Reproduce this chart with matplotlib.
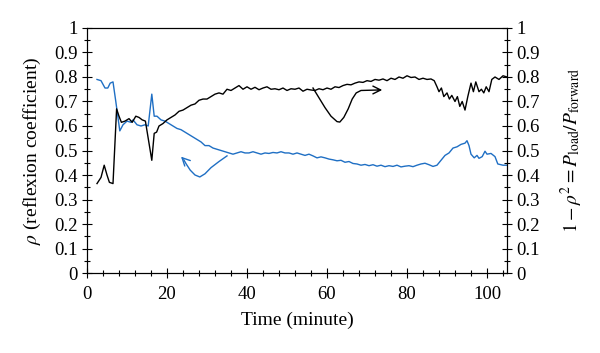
import matplotlib
matplotlib.use("Agg")
import matplotlib.pyplot as plt
from matplotlib.ticker import MultipleLocator

# black curve: 1 - rho^2 (right axis)
t_black = [2.5, 3.5, 4.3, 5.0, 5.6, 6.5, 7.4, 8.0, 8.6, 9.5, 10.5, 11.3, 12.2, 13.0, 13.8, 14.6, 15.3, 16.2, 16.8,
           17.4, 18.0, 19.0, 20, 21, 22, 23, 24, 25, 26, 27, 28, 29, 30, 31, 32, 33, 34, 35, 36, 37, 38, 39,
           40, 41, 42, 43, 44, 45, 46, 47, 48, 49, 50, 51, 52, 53, 54, 55, 56, 57, 58, 59, 60, 61, 62, 63,
           64, 65, 66, 67, 68, 69, 70, 71, 72, 73, 74, 75, 76, 77, 78, 79, 80, 81, 82, 83, 84, 85, 86, 86.8,
           87.5, 88, 88.6, 89.2, 90, 90.6, 91.2, 92, 92.6, 93.2, 93.8, 94.5, 95.2, 96, 96.6, 97.2, 98, 98.6,
           99.2, 99.8, 100.5, 101.2, 102, 103, 104, 105]
v_black = [0.365, 0.39, 0.44, 0.40, 0.37, 0.365, 0.67, 0.64, 0.615, 0.62, 0.63, 0.615, 0.64, 0.635, 0.625, 0.62, 0.55, 0.46, 0.57,
           0.575, 0.60, 0.61, 0.625, 0.635, 0.645, 0.66, 0.665, 0.675, 0.685, 0.69, 0.705, 0.71, 0.71, 0.72, 0.73, 0.735, 0.73, 0.75, 0.745, 0.755, 0.765, 0.75,
           0.76, 0.75, 0.758, 0.748, 0.755, 0.76, 0.75, 0.752, 0.748, 0.755, 0.745, 0.752, 0.75, 0.755, 0.742, 0.75, 0.747, 0.745, 0.752, 0.748, 0.755, 0.75, 0.76, 0.757,
           0.765, 0.77, 0.768, 0.775, 0.78, 0.778, 0.785, 0.782, 0.79, 0.787, 0.792, 0.785, 0.795, 0.79, 0.80, 0.795, 0.805, 0.798, 0.80, 0.79, 0.795, 0.79, 0.792, 0.785,
           0.76, 0.74, 0.755, 0.72, 0.735, 0.71, 0.725, 0.70, 0.72, 0.68, 0.70, 0.665, 0.72, 0.775, 0.74, 0.78, 0.74, 0.75,
           0.735, 0.76, 0.74, 0.79, 0.80, 0.79, 0.805, 0.80]

# blue curve: rho (left axis)
t_blue = [2.5, 3.5, 4.5, 5.2, 5.8, 6.5, 7.2, 8.2, 9.0, 10, 11, 11.5, 12.5, 13.5, 14.5, 15.3, 16.2, 16.8, 17.5, 18.5,
          19.5, 20.5, 21.5, 22.5, 23.5, 24.5, 25.5, 26.5, 27.5, 28.5, 29.5, 30.5, 31.5, 32.5, 33.5, 34.5, 35.5, 36.5,
          37.5, 38.5, 39.5, 40.5, 41.5, 42.5, 43.5, 44.5, 45.5, 46.5, 47.5, 48.5, 49.5, 50.5, 51.5, 52.5, 53.5, 54.5,
          55.5, 56.5, 57.5, 58.5, 59.5, 60.5, 61.5, 62.5, 63.5, 64.5, 65.5, 66.5, 67.5, 68.5, 69.5, 70.5, 71.5, 72.5,
          73.5, 74.5, 75.5, 76.5, 77.5, 78.5, 79.5, 80.5, 81.5, 82.5, 83.5, 84.5, 85.5, 86.5, 87.5, 88.5, 89.5, 90.5,
          91.5, 92.5, 93.5, 94.5, 95.0, 95.5, 96, 96.8, 97.5, 98, 98.8, 99.5, 100, 101, 102, 102.7, 104, 105]
v_blue = [0.79, 0.785, 0.755, 0.755, 0.775, 0.78, 0.70, 0.58, 0.605, 0.62, 0.615, 0.625, 0.605, 0.60, 0.605, 0.60, 0.73, 0.64, 0.64, 0.625,
          0.62, 0.61, 0.60, 0.59, 0.585, 0.575, 0.565, 0.555, 0.545, 0.535, 0.52, 0.52, 0.51, 0.505, 0.50, 0.495, 0.49, 0.485,
          0.49, 0.495, 0.49, 0.49, 0.495, 0.49, 0.485, 0.49, 0.488, 0.492, 0.49, 0.495, 0.49, 0.49, 0.485, 0.49, 0.485, 0.48,
          0.485, 0.478, 0.47, 0.474, 0.47, 0.465, 0.462, 0.458, 0.46, 0.452, 0.455, 0.447, 0.445, 0.44, 0.443, 0.438, 0.442, 0.436,
          0.44, 0.434, 0.438, 0.435, 0.44, 0.433, 0.436, 0.438, 0.434, 0.44, 0.445, 0.448, 0.442, 0.435, 0.44, 0.46, 0.48, 0.49,
          0.51, 0.515, 0.525, 0.53, 0.54, 0.52, 0.485, 0.47, 0.48, 0.468, 0.475, 0.497, 0.485, 0.488, 0.475, 0.445, 0.44, 0.44]

# annotation paths (curved arrows)
t_arr_black = [56.5, 58, 59.5, 61, 62.5, 63.2, 64.2, 65.3, 66.3, 67.3, 68.5, 73]
v_arr_black = [0.755, 0.715, 0.675, 0.64, 0.618, 0.616, 0.635, 0.67, 0.71, 0.735, 0.745, 0.747]
t_arr_blue = [35, 33, 31, 29.5, 28.2, 27, 25.8, 24.8, 24.2]
v_arr_blue = [0.478, 0.455, 0.43, 0.405, 0.392, 0.40, 0.42, 0.445, 0.462]

blue = "#1f6fc4"

plt.rcParams['font.family'] = ['Liberation Serif', 'DejaVu Serif']
plt.rcParams['mathtext.fontset'] = 'stix'

fig = plt.figure(figsize=(6, 3.53), dpi=100)
ax = fig.add_axes([0.145, 0.2266, 0.7, 0.6941])
ax2 = ax.twinx()

ax2.plot(t_black, v_black, color='black', lw=1.0)
ax.plot(t_blue, v_blue, color=blue, lw=1.0)

ax2.plot(t_arr_black, v_arr_black, color='black', lw=1.0)
ax2.annotate("", xy=(74.5, 0.747), xytext=(72, 0.747),
             arrowprops=dict(arrowstyle='->', color='black', lw=1.0, mutation_scale=14))
ax.plot(t_arr_blue, v_arr_blue, color=blue, lw=1.0)
ax.annotate("", xy=(23.5, 0.475), xytext=(24.4, 0.46),
            arrowprops=dict(arrowstyle='->', color=blue, lw=1.0, mutation_scale=14))

for a in (ax, ax2):
    a.set_xlim(0, 105)
    a.set_ylim(0, 1)
    a.yaxis.set_minor_locator(MultipleLocator(0.05))
    a.set_yticks([i / 10 for i in range(11)])
    a.set_yticklabels(["0"] + ["0.%d" % i for i in range(1, 10)] + ["1"])
    a.tick_params(which='major', direction='inout', length=7, width=0.8, labelsize=13.5)
    a.tick_params(which='minor', direction='inout', length=4, width=0.8)

ax.xaxis.set_major_locator(MultipleLocator(20))
ax.xaxis.set_minor_locator(MultipleLocator(4))
ax.tick_params(axis='x', which='both', top=False, pad=6)
ax.tick_params(axis='y', pad=3)
ax2.tick_params(axis='y', pad=3)

ax.set_xlabel("Time (minute)", fontsize=14, labelpad=6)
ax.set_ylabel(r"$\rho$ (reflexion coefficient)", fontsize=14, labelpad=8)
ax2.set_ylabel(r"$1 - \rho^2 = P_{\mathrm{load}}/P_{\mathrm{forward}}$", fontsize=14, labelpad=14)

fig.savefig("out.png", dpi=100)
